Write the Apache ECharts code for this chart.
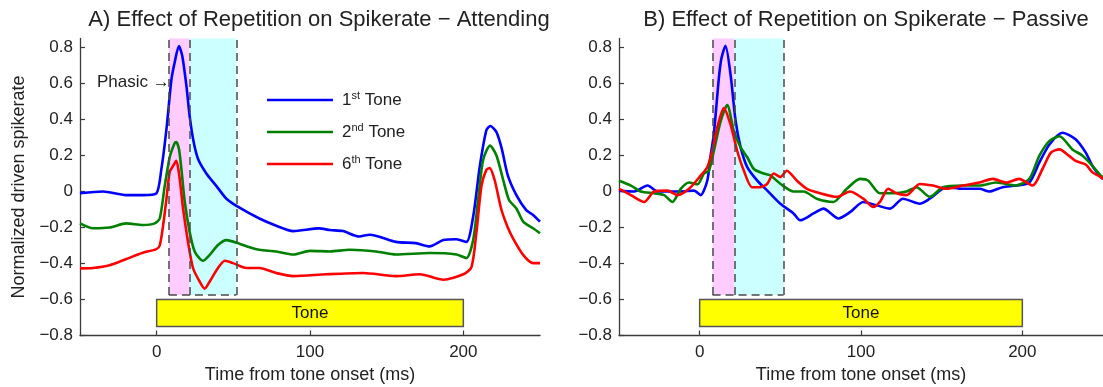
<!DOCTYPE html>
<html>
<head>
<meta charset="utf-8">
<script src="https://cdn.jsdelivr.net/npm/echarts@6/dist/echarts.min.js"></script>
<style>
html,body{margin:0;padding:0;background:#fff;}
#chart{width:1103px;height:387px;}
</style>
</head>
<body>
<div id="chart"></div>
<script>
// ---------- data (time ms, normalized driven spikerate) ----------
const seriesNames = ['1st Tone', '2nd Tone', '6th Tone'];
const seriesColors = ['#0000FF', '#008000', '#FF0000'];

const xTicks = [0, 100, 200];
const yTicks = [-0.8, -0.6, -0.4, -0.2, 0, 0.2, 0.4, 0.6, 0.8];

const phasicWindow = [8, 21.5];
const postPhasicWindow = [21.5, 52];
const windowBottom = -0.575;
const toneSpan = [0, 200];
const toneBarY = [-0.6, -0.75];

const attBlue = [[-50,-0.01],[-35,0],[-20,-0.02],[-9,-0.02],[-0.2,-0.01],[3,0.12],[6.3,0.34],[9.6,0.62],[11.7,0.715],[14.5,0.808],[16.7,0.753],[19.4,0.587],[21.5,0.42],[24,0.28],[27,0.18],[32.4,0.1],[39,0.03],[45.5,-0.04],[54,-0.09],[67,-0.15],[78,-0.19],[89,-0.22],[106,-0.205],[113,-0.214],[121.5,-0.22],[132,-0.25],[139,-0.24],[156,-0.28],[169,-0.287],[178,-0.305],[187,-0.27],[195.5,-0.265],[202,-0.28],[206.4,-0.14],[210.7,0.138],[215,0.34],[217.6,0.364],[221.6,0.33],[225,0.24],[229,0.09],[234.6,-0.02],[241,-0.103],[245.5,-0.13],[250,-0.167]];

const attGreen = [[-50,-0.177],[-41.5,-0.204],[-30.7,-0.2],[-19.8,-0.177],[-8.9,-0.186],[-1.3,-0.177],[2,-0.15],[5.2,0.027],[8.5,0.19],[11.7,0.268],[12.8,0.275],[14.5,0.237],[16.1,0.127],[18.3,-0.057],[21.5,-0.223],[24.8,-0.333],[30.2,-0.385],[34.6,-0.352],[40,-0.297],[45.5,-0.27],[54,-0.29],[60.7,-0.31],[67,-0.324],[78,-0.333],[89,-0.35],[100,-0.33],[113,-0.333],[126,-0.324],[143,-0.333],[156,-0.35],[178,-0.342],[195.5,-0.35],[202,-0.37],[206.4,-0.27],[209.6,-0.05],[212.9,0.175],[217.4,0.255],[221.6,0.2],[226,0.064],[229.8,-0.047],[234.6,-0.094],[239,-0.167],[245.5,-0.204],[250,-0.232]];

const attRed = [[-50,-0.427],[-41.5,-0.425],[-30.7,-0.41],[-19.8,-0.375],[-9,-0.34],[-0.2,-0.32],[2,-0.3],[4.1,-0.195],[6.3,-0.047],[8.5,0.11],[10.6,0.14],[12.8,0.17],[15,0.072],[17.2,-0.094],[20.4,-0.278],[23.7,-0.425],[28,-0.5],[31.3,-0.54],[34.6,-0.5],[40,-0.425],[44.5,-0.385],[49.8,-0.398],[58.5,-0.425],[67,-0.425],[78,-0.453],[89,-0.47],[110.7,-0.46],[134.6,-0.453],[156,-0.47],[171.6,-0.46],[187,-0.49],[200,-0.46],[205.3,-0.42],[208.5,-0.23],[211.8,0.03],[215,0.12],[217.2,0.13],[220.4,0.064],[224.8,-0.1],[229,-0.2],[232.4,-0.26],[239,-0.352],[245.5,-0.398],[250,-0.398]];

const pasBlue = [[-50,0.005],[-40.6,0],[-32.3,0.033],[-26,0],[-20,0],[-11.7,0],[-3.5,0.005],[0.6,-0.02],[4.7,0.06],[6.8,0.2],[8.8,0.32],[11.9,0.63],[13.5,0.74],[16,0.81],[19.2,0.645],[22.3,0.39],[25.4,0.245],[29.5,0.135],[35.7,0.06],[41.9,0.005],[50,-0.068],[58.2,-0.122],[62.3,-0.16],[70.6,-0.122],[76.7,-0.095],[86,-0.15],[93.2,-0.115],[101.4,-0.058],[109.7,-0.077],[118,-0.095],[126,-0.04],[136.4,-0.068],[142.6,-0.04],[153,0.024],[163,0.015],[173.5,0.015],[179.6,0],[187.8,0.024],[196,0.033],[204.3,0.05],[210.5,0.16],[216.7,0.26],[224.9,0.326],[233,0.29],[239.3,0.216],[243.4,0.143],[248.6,0.08],[250,0.07]];

const pasGreen = [[-50,0.06],[-42.6,0.033],[-36.4,0],[-28.2,-0.01],[-22,-0.02],[-16.9,-0.058],[-11.7,0.015],[-6.6,0.05],[-1.4,0.04],[2.7,0.1],[5.7,0.115],[8.8,0.225],[13,0.39],[17.1,0.48],[21.2,0.335],[25.4,0.245],[29.5,0.19],[33.6,0.125],[39.7,0.1],[43.8,0.09],[50,0.043],[58.2,0],[64.4,0],[72.6,-0.04],[82.9,-0.058],[91.2,0.015],[99.4,0.07],[104.5,0.06],[111.7,-0.01],[120,-0.01],[128.2,0],[134.4,0.024],[142.6,-0.03],[150.8,0.024],[163,0.033],[173.5,0.033],[183.8,0.05],[196,0.033],[204.3,0.07],[210.5,0.198],[216.7,0.28],[223,0.307],[231,0.234],[237.2,0.2],[243.4,0.143],[248.6,0.088],[250,0.08]];

const pasRed = [[-50,0.015],[-42.6,-0.02],[-34.4,-0.058],[-28.2,0],[-20,0.005],[-13.8,-0.02],[-6.6,0.015],[0.6,0.088],[4.7,0.135],[7.8,0.225],[10.9,0.355],[15,0.464],[19.2,0.37],[23.3,0.225],[27.4,0.115],[32.5,0.024],[37.7,0.024],[41.9,0.043],[45.9,0.1],[50,0.08],[54,0.115],[60.3,0.06],[66.5,0.015],[74.7,-0.01],[85,-0.03],[93.2,0],[101.4,-0.04],[107.6,-0.086],[111.7,-0.058],[116.9,0.015],[122,-0.01],[128.2,-0.02],[136.4,0.042],[144.6,0.033],[153,0.015],[163,0.033],[173.5,0.05],[181.7,0.07],[190,0.05],[198,0.07],[206.4,0.033],[212.5,0.125],[217.7,0.216],[223,0.234],[229,0.198],[233,0.17],[239.3,0.15],[243.4,0.107],[248.6,0.08],[250,0.07]];

// ---------- chart ----------
const FONT = '"Liberation Sans", Arial, sans-serif';
const TXT = '#222';
const AX = '#3a3a3a';

function fmtY(v) {
  if (Math.abs(v) < 1e-9) return '0';
  return (v < 0 ? '\u2212' : '') + Math.abs(v).toFixed(1);
}
function fmtX(v) { return String(v); }

function xAxis(gi) {
  return {
    type: 'value', gridIndex: gi, min: -50, max: 250,
    axisLine: { show: true, onZero: false, lineStyle: { color: AX, width: 1.3 } },
    axisTick: { show: true, inside: true, length: 5, customValues: xTicks, lineStyle: { color: AX, width: 1.2 } },
    axisLabel: { customValues: xTicks, formatter: fmtX, fontSize: 17, color: TXT, fontFamily: FONT, margin: 8 },
    splitLine: { show: false },
    name: 'Time from tone onset (ms)', nameLocation: 'middle', nameGap: 31,
    nameTextStyle: { fontSize: 18, color: TXT, fontFamily: FONT }
  };
}
function yAxis(gi, withName) {
  const a = {
    type: 'value', gridIndex: gi, min: -0.8, max: 0.85,
    axisLine: { show: true, onZero: false, lineStyle: { color: AX, width: 1.3 } },
    axisTick: { show: true, inside: true, length: 5, customValues: yTicks, lineStyle: { color: AX, width: 1.2 } },
    axisLabel: { customValues: yTicks, formatter: fmtY, fontSize: 17, color: TXT, fontFamily: FONT, margin: 7 },
    splitLine: { show: false }
  };
  if (withName) {
    a.name = 'Normalized driven spikerate';
    a.nameLocation = 'middle';
    a.nameGap = 52;
    a.nameTextStyle = { fontSize: 18, color: TXT, fontFamily: FONT };
  }
  return a;
}

function decoSeries(gi) {
  const dash = { type: [8, 5], color: '#4a4a4a', width: 1.5 };
  const top = 0.85;
  return {
    type: 'line', xAxisIndex: gi, yAxisIndex: gi, data: [], silent: true, z: 1,
    markArea: {
      silent: true,
      data: [
        [{ coord: [phasicWindow[0], windowBottom], itemStyle: { color: '#FFCCFF' } }, { coord: [phasicWindow[1], top] }],
        [{ coord: [postPhasicWindow[0], windowBottom], itemStyle: { color: '#CCFFFF' } }, { coord: [postPhasicWindow[1], top] }],
        [{ coord: [toneSpan[0], toneBarY[0]], itemStyle: { color: '#FFFF00', borderColor: '#555', borderWidth: 1.5 },
           label: { show: true, position: 'inside', formatter: 'Tone', fontSize: 17, color: '#111', fontFamily: FONT } },
         { coord: [toneSpan[1], toneBarY[1]] }]
      ]
    },
    markLine: {
      silent: true, symbol: ['none', 'none'], label: { show: false }, lineStyle: dash,
      data: [
        [{ coord: [phasicWindow[0], windowBottom] }, { coord: [phasicWindow[0], top] }],
        [{ coord: [phasicWindow[1], windowBottom] }, { coord: [phasicWindow[1], top] }],
        [{ coord: [postPhasicWindow[1], windowBottom] }, { coord: [postPhasicWindow[1], top] }],
        [{ coord: [phasicWindow[0], windowBottom] }, { coord: [postPhasicWindow[1], windowBottom] }]
      ]
    }
  };
}

function lineSeries(gi, idx, data) {
  return {
    type: 'line', name: seriesNames[idx], xAxisIndex: gi, yAxisIndex: gi,
    data: data, symbol: 'none', showSymbol: false, smooth: 0.25, z: 3,
    lineStyle: { color: seriesColors[idx], width: 2.6 },
    itemStyle: { color: seriesColors[idx] }
  };
}

const chart = echarts.init(document.getElementById('chart'), null, { renderer: 'canvas' });
chart.setOption({
  animation: false,
  backgroundColor: '#ffffff',
  textStyle: { fontFamily: FONT },
  title: [
    { text: 'A) Effect of Repetition on Spikerate \u2212 Attending', left: 314, top: 4, textAlign: 'center',
      textStyle: { fontSize: 22, fontWeight: 'normal', color: TXT, fontFamily: FONT } },
    { text: 'B) Effect of Repetition on Spikerate \u2212 Passive', left: 861, top: 4, textAlign: 'center',
      textStyle: { fontSize: 22, fontWeight: 'normal', color: TXT, fontFamily: FONT } }
  ],
  grid: [
    { left: 80, top: 38.5, width: 460, height: 297, outerBoundsMode: 'none', containLabel: false },
    { left: 619, top: 38.5, width: 484, height: 297, outerBoundsMode: 'none', containLabel: false }
  ],
  xAxis: [xAxis(0), xAxis(1)],
  yAxis: [yAxis(0, true), yAxis(1, false)],
  legend: {
    data: seriesNames.map(function (n, i) { return { name: n, icon: 'rect', itemStyle: { color: seriesColors[i] } }; }),
    orient: 'vertical', left: 267, top: 90, padding: 0,
    itemWidth: 66, itemHeight: 2.6, itemGap: 12,
    textStyle: { fontSize: 17, color: TXT, fontFamily: FONT, lineHeight: 20, padding: [0, 0, 0, 4],
      rich: { sup: { fontSize: 11, color: TXT, fontFamily: FONT, verticalAlign: 'top', padding: [0, 0, 9, 0] } } },
    formatter: function (name) {
      const m = name.match(/^(\d+)(st|nd|th) (.*)$/);
      return m ? m[1] + '{sup|' + m[2] + '} ' + m[3] : name;
    },
    selectedMode: false
  },
  graphic: [
    { type: 'text', left: 97, top: 74, style: { text: 'Phasic \u2192', fontSize: 17, fill: TXT, fontFamily: FONT } },
    { type: 'text', x: 214, y: 100, rotation: Math.PI / 2,
      style: { text: 'Post\u2212phasic', fontSize: 17, fill: TXT, fontFamily: FONT, align: 'center', verticalAlign: 'middle' } }
  ],
  series: [
    decoSeries(0), decoSeries(1),
    lineSeries(0, 0, attBlue), lineSeries(0, 1, attGreen), lineSeries(0, 2, attRed),
    lineSeries(1, 0, pasBlue), lineSeries(1, 1, pasGreen), lineSeries(1, 2, pasRed)
  ]
});
</script>
</body>
</html>
